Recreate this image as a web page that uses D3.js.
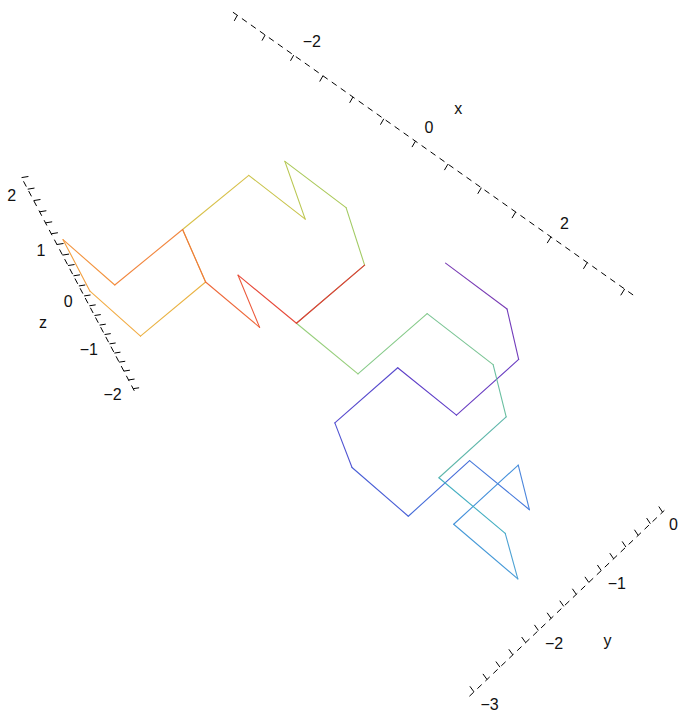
<!DOCTYPE html>
<html><head><meta charset="utf-8">
<script src="https://cdn.jsdelivr.net/npm/d3@7"></script>
<style>body{margin:0;background:#fff}svg{display:block}text{font-family:"Liberation Sans",Arial,Helvetica,sans-serif}</style>
</head><body><svg id="c" width="678" height="715"></svg>
<script>
// ---- data: 3D lattice walk (vertex order) ----
const walkX = [0,1,1,1,0,0,0,1,1,2,2,2,3,3,2,2,2,1,1,0,0,0,-1,-1,-2,-2,-2,-2,-3,-3,-2,-2,-2,-1,-1,0,0];
const walkY = [0,0,0,-1,-1,-2,-2,-2,-1,-1,-1,-2,-2,-2,-2,-1,-1,-1,-2,-2,-1,-1,-1,-1,-1,-2,-2,-3,-3,-3,-3,-2,-2,-2,-2,-2,-1];
const walkZ = [0,0,-1,-1,-1,-1,-2,-2,-2,-2,-1,-1,-1,0,0,0,1,1,1,1,1,2,2,1,1,1,0,0,0,1,1,1,0,0,1,1,1];

// axis ticks and labels
const xTickVals = d3.range(-3, 3.001, 0.5);
const yTickVals = d3.range(-3, 0.001, 0.2);
const zTickVals = d3.range(-2, 2.201, 0.2);
const xLabelVals = [-2, 0, 2];
const yLabelVals = [0, -1, -2, -3];
const zLabelVals = [2, 1, 0, -1, -2];

// ---- camera (perspective projection matrix) ----
const PA = [48.95297, 68.44652, -30.27389, 445.57350];
const PB = [38.35359, -51.38343, -62.25572, 263.07377];
const PC = [-0.02470, 0.01213, -0.03655, 1];
function project(p){
  const w = PC[0]*p[0]+PC[1]*p[1]+PC[2]*p[2]+PC[3];
  return [(PA[0]*p[0]+PA[1]*p[1]+PA[2]*p[2]+PA[3])/w,
          (PB[0]*p[0]+PB[1]*p[1]+PB[2]*p[2]+PB[3])/w];
}
// world scales (data -> box units)
const sx = d3.scaleLinear().domain([-3,3]).range([-3,3]);
const sy = d3.scaleLinear().domain([-3,0]).range([-3,0]);
const sz = d3.scaleLinear().domain([-2,2]).range([-2,2]);

// box edges where the axes sit
const xAxisAt = {y: 0.027, z: 2.11}, xRange = [-3.08, 3.13];
const yAxisAt = {x: 3.131, z: -2.053}, yRange = [-3.07, 0.03];
const zAxisAt = {x: -3.0, y: -3.09}, zRange = [-2.05, 2.2];

const svg = d3.select("#c");
const gAxes = svg.append("g");
const gPath = svg.append("g");
const fmt = d3.format("d");
const line2 = d3.line().x(d => project(d)[0]).y(d => project(d)[1]);
const FS = 16;

function drawAxis(lineFn, range, ticks, tickDir, labels, lab, title, titleAt){
  gAxes.append("path").attr("d", line2([lineFn(range[0]), lineFn(range[1])]))
    .attr("fill","none").attr("stroke","#000").attr("stroke-width",1)
    .attr("stroke-dasharray","6,5");
  ticks.forEach(v => {
    const p = lineFn(v);
    const q = [p[0]+tickDir[0], p[1]+tickDir[1], p[2]+tickDir[2]];
    gAxes.append("path").attr("d", line2([p,q])).attr("fill","none")
      .attr("stroke","#000").attr("stroke-width",1);
  });
  labels.forEach(v => {
    const s = project(lineFn(v));
    gAxes.append("text").attr("x", s[0]+lab.dx).attr("y", s[1]+lab.dy).attr("text-anchor",lab.anchor)
      .attr("dominant-baseline","central").attr("font-size",FS).attr("fill","#111").text(fmt(v));
  });
  const t = project(titleAt);
  gAxes.append("text").attr("x", t[0]).attr("y", t[1]).attr("text-anchor","middle")
    .attr("dominant-baseline","central").attr("font-size",FS).attr("fill","#111").text(title);
}
drawAxis(v => [sx(v), xAxisAt.y, xAxisAt.z], xRange, xTickVals, [0,-0.06,-0.04],
  xLabelVals, {dx:9, dy:-13.5, anchor:"start"}, "x", [0, xAxisAt.y+0.62, xAxisAt.z-0.04]);
drawAxis(v => [yAxisAt.x, sy(v), yAxisAt.z], yRange, yTickVals, [-0.05,0,0.07],
  yLabelVals, {dx:6.5, dy:12.7, anchor:"start"}, "y", [yAxisAt.x+0.54, -1.5, yAxisAt.z-0.26]);
drawAxis(v => [zAxisAt.x, zAxisAt.y, sz(v)], zRange, zTickVals, [0.05,0.06,0],
  zLabelVals, {dx:-11.5, dy:6, anchor:"end"}, "z", [zAxisAt.x-0.08, zAxisAt.y-0.57, 0]);

// ---- walk path, coloured by step index ----
const pts = walkX.map((x,i) => [sx(x), sy(walkY[i]), sz(walkZ[i])]);
const nSeg = pts.length - 1;
const colorStops = ["#7a3db5","#5f3fc8","#4a5fd6","#4c86dc","#4fa3d4","#5fb7ab","#7cc596","#97cf7c","#abc95a","#d8c14a","#f2ac44","#f2873f","#ec5a3c","#e23838"];
const stopIdx = [0,3,6,9,12,14,16,18,21,24,27,30,33,35];
const color = d3.scaleLinear().domain(stopIdx).range(colorStops).interpolate(d3.interpolateHcl);
for (let i = 0; i < nSeg; i++) {
  gPath.append("path").attr("d", line2([pts[i], pts[i+1]]))
    .attr("fill","none").attr("stroke", color(i)).attr("stroke-width",1.1)
    .attr("stroke-linecap","round");
}
</script></body></html>
